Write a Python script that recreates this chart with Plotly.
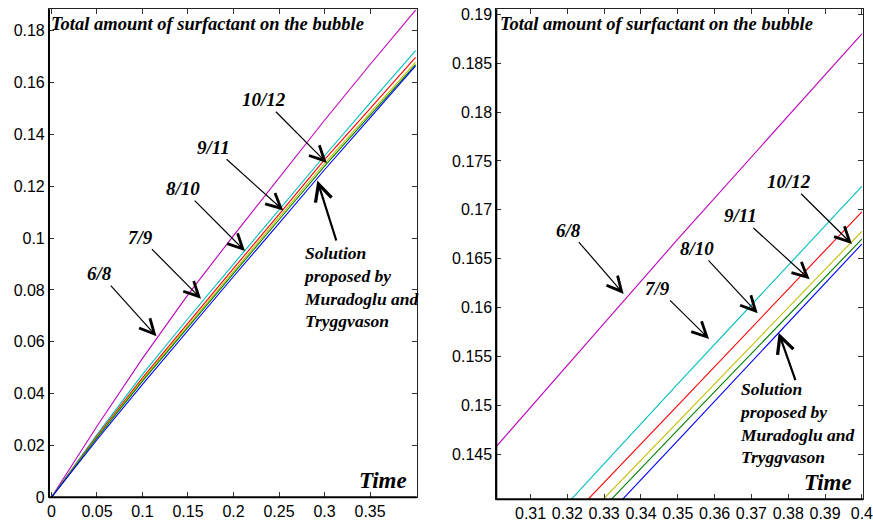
import plotly.graph_objects as go

# Time samples and total surfactant amount for each grid refinement
time = [0.0, 0.025, 0.05, 0.10, 0.15, 0.20, 0.25, 0.30, 0.35, 0.40]
res_6_8 = [0.0, 0.0138, 0.0274, 0.0536, 0.0782, 0.1010, 0.1233, 0.1455, 0.1670, 0.1880]
res_7_9 = [0.0, 0.0122, 0.0242, 0.0474, 0.0690, 0.0900, 0.1110, 0.1318, 0.1522, 0.1724]
res_8_10 = [0.0, 0.0119, 0.0236, 0.0461, 0.0674, 0.0883, 0.1092, 0.1303, 0.1500, 0.1698]
res_9_11 = [0.0, 0.0117, 0.0232, 0.0454, 0.0664, 0.0872, 0.1080, 0.1288, 0.1483, 0.1678]
res_10_12 = [0.0, 0.0115, 0.0229, 0.0448, 0.0657, 0.0865, 0.1071, 0.1278, 0.1475, 0.1670]
reference = [0.0, 0.0112, 0.0222, 0.0436, 0.0645, 0.0852, 0.1057, 0.1264, 0.1464, 0.1665]

series = [
    ("6/8", res_6_8, "#bf00bf"),
    ("7/9", res_7_9, "#00bfbf"),
    ("8/10", res_8_10, "#ff0000"),
    ("9/11", res_9_11, "#bfbf00"),
    ("10/12", res_10_12, "#008000"),
    ("Muradoglu and Tryggvason", reference, "#0000ff"),
]

# Tick labels
left_xticks = [0, 0.05, 0.1, 0.15, 0.2, 0.25, 0.3, 0.35]
left_xtext = ["0", "0.05", "0.1", "0.15", "0.2", "0.25", "0.3", "0.35"]
left_yticks = [0, 0.02, 0.04, 0.06, 0.08, 0.1, 0.12, 0.14, 0.16, 0.18]
left_ytext = ["0", "0.02", "0.04", "0.06", "0.08", "0.1", "0.12", "0.14", "0.16", "0.18"]
right_xticks = [0.31, 0.32, 0.33, 0.34, 0.35, 0.36, 0.37, 0.38, 0.39, 0.4]
right_xtext = ["0.31", "0.32", "0.33", "0.34", "0.35", "0.36", "0.37", "0.38", "0.39", "0.4"]
right_yticks = [0.145, 0.15, 0.155, 0.16, 0.165, 0.17, 0.175, 0.18, 0.185, 0.19]
right_ytext = ["0.145", "0.15", "0.155", "0.16", "0.165", "0.17", "0.175", "0.18", "0.185", "0.19"]

fig = go.Figure()
for name, vals, color in series:
    for xa, ya in (("x", "y"), ("x2", "y2")):
        fig.add_trace(go.Scatter(x=time, y=vals, mode="lines", name=name,
                                 line=dict(color=color, width=1.1),
                                 xaxis=xa, yaxis=ya, showlegend=False))

tick_font = dict(family="Liberation Sans", size=16, color="black")
axis_common = dict(showgrid=False, zeroline=False, showline=True, linecolor="#222",
                   linewidth=1, mirror="ticks", ticks="inside", ticklen=5,
                   tickcolor="#333", tickwidth=1, tickfont=tick_font, tickmode="array",
                   ticklabeloverflow="allow", automargin=False)

fig.update_layout(
    width=873, height=521, autosize=False,
    margin=dict(l=0, r=0, t=0, b=0),
    paper_bgcolor="white", plot_bgcolor="white",
    xaxis=dict(domain=[0.0561, 0.4773], range=[-0.0027, 0.4012],
               tickvals=left_xticks, ticktext=left_xtext, **axis_common),
    yaxis=dict(domain=[0.0455, 0.9821], range=[0, 0.1883],
               tickvals=left_yticks, ticktext=left_ytext, **axis_common),
    xaxis2=dict(domain=[0.5685, 0.9885], range=[0.3007, 0.4003], anchor="y2",
                tickvals=right_xticks, ticktext=right_xtext, **axis_common),
    yaxis2=dict(domain=[0.0417, 0.9821], range=[0.1404, 0.1905], anchor="x2",
                tickvals=right_yticks, ticktext=right_ytext, **axis_common),
)

# Heavier left and bottom axis lines
for xd, yd in (("x domain", "y domain"), ("x2 domain", "y2 domain")):
    fig.add_shape(type="line", xref=xd, yref=yd, x0=0, x1=0, y0=0, y1=1,
                  line=dict(color="black", width=2))
    fig.add_shape(type="line", xref=xd, yref=yd, x0=0, x1=1, y0=0, y1=0,
                  line=dict(color="black", width=2))

serif = "Liberation Serif"


def label(text, size, xr, yr, x, y, xanchor="center", yanchor="middle", align="center", xshift=0):
    fig.add_annotation(text=f"<b><i>{text}</i></b>", xref=xr, yref=yr, x=x, y=y,
                       showarrow=False, xanchor=xanchor, yanchor=yanchor, align=align,
                       xshift=xshift,
                       font=dict(family=serif, size=size, color="black"))


def arrow_label(text, xr, yr, tx, ty, hx, hy, size=19, width=1.2, head=2.4):
    fig.add_annotation(text=f"<b><i>{text}</i></b>" if text else "",
                       xref=xr, yref=yr, axref=xr, ayref=yr,
                       x=hx, y=hy, ax=tx, ay=ty, showarrow=True,
                       arrowhead=5, arrowsize=head, arrowwidth=width,
                       arrowcolor="black", standoff=0,
                       font=dict(family=serif, size=size, color="black"))


# Left panel text
label("Total amount of surfactant on the bubble", 18.5, "x domain", "y domain",
      0.0, 0.9705, xanchor="left", xshift=0)
label("Time", 23, "x", "y", 0.3907, 0.0065, xanchor="right", xshift=2)
label("Solution<br>proposed by<br>Muradoglu and<br>Tryggvason", 17.5, "x", "y",
      0.274, 0.0810, xanchor="left", align="left")
arrow_label("6/8", "x", "y", 0.0533, 0.0863, 0.1154, 0.0621)
arrow_label("7/9", "x", "y", 0.0973, 0.1004, 0.1643, 0.0766)
arrow_label("8/10", "x", "y", 0.1442, 0.1191, 0.2126, 0.0950)
arrow_label("9/11", "x", "y", 0.1778, 0.1351, 0.2547, 0.1107)
arrow_label("10/12", "x", "y", 0.2335, 0.1534, 0.3024, 0.1290)
arrow_label("", "x", "y", 0.3134, 0.0985, 0.2921, 0.1222, width=2.2, head=1.5)

# Right panel text
label("Total amount of surfactant on the bubble", 18.5, "x2 domain", "y2 domain",
      0.0, 0.9705, xanchor="left", xshift=2)
label("Time", 23, "x2", "y2", 0.3969, 0.14207, xanchor="right", xshift=4)
label("Solution<br>proposed by<br>Muradoglu and<br>Tryggvason", 17.5, "x2", "y2",
      0.3665, 0.14815, xanchor="left", align="left", xshift=-2)
arrow_label("6/8", "x2", "y2", 0.3203, 0.16793, 0.3353, 0.16140)
arrow_label("7/9", "x2", "y2", 0.3446, 0.16197, 0.3585, 0.15679)
arrow_label("8/10", "x2", "y2", 0.3553, 0.16606, 0.3717, 0.15942)
arrow_label("9/11", "x2", "y2", 0.3670, 0.16937, 0.3858, 0.16289)
arrow_label("10/12", "x2", "y2", 0.3802, 0.17287, 0.3973, 0.16650)
arrow_label("", "x2", "y2", 0.3821, 0.15242, 0.3774, 0.15743, width=2.2, head=1.5)

fig.write_html("out.html")
